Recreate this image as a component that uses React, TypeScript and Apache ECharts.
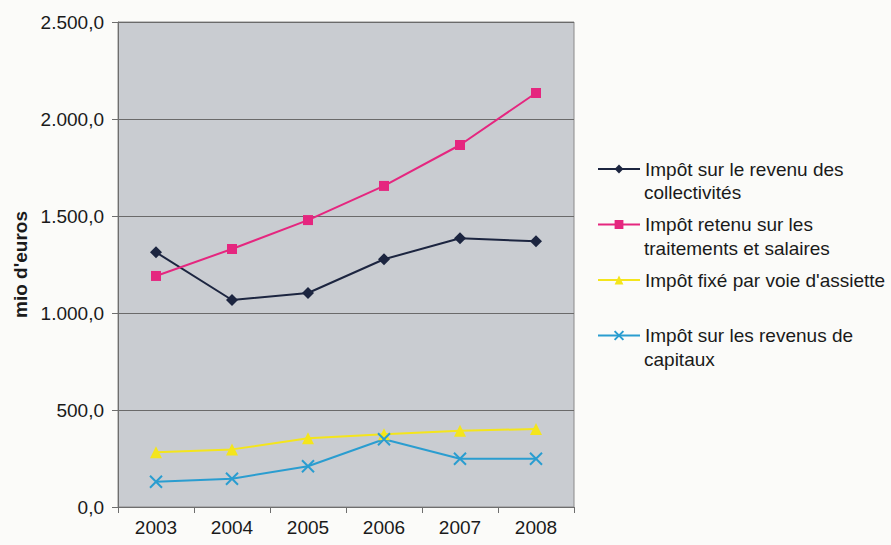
import React, { useEffect, useRef } from "react";
import * as echarts from "echarts";

const years = ["2003", "2004", "2005", "2006", "2007", "2008"];
const collectivites = [1313, 1067, 1103, 1277, 1385, 1370];
const traitements = [1191, 1330, 1479, 1655, 1866, 2134];
const assiette = [282, 297, 354, 375, 393, 402];
const capitaux = [130, 146, 210, 349, 249, 249];
const seriesNames = [
  "Impôt sur le revenu des collectivités",
  "Impôt retenu sur les traitements et salaires",
  "Impôt fixé par voie d'assiette",
  "Impôt sur les revenus de capitaux",
];
const legendFirstLines = [
  "Impôt sur le revenu des",
  "Impôt retenu sur les",
  "Impôt fixé par voie d'assiette",
  "Impôt sur les revenus de",
];
const legendSecondLines = ["collectivités", "traitements et salaires", "", "capitaux"];

const colors = ["#1c2540", "#e5267f", "#f4e51c", "#2a9dd0"];
const symbols = ["diamond", "rect", "triangle", "path://M0 0L10 10M10 0L0 10"];
const symbolSizes = [12, 10, 12, 12];

const FONT = "Liberation Sans, Arial, sans-serif";

function fmt(v: number) {
  const s = Math.round(v).toString();
  const withDots = s.replace(/\B(?=(\d{3})+(?!\d))/g, ".");
  return withDots + ",0";
}

export default function App() {
  const ref = useRef<HTMLDivElement>(null);
  useEffect(() => {
    document.body.style.margin = "0";
    document.body.style.background = "#fbfbf9";
    const chart = echarts.init(ref.current!, undefined, { renderer: "svg" });
    const data = [collectivites, traitements, assiette, capitaux];
    const firstLineY = 169;
    const pitch = 55.5;
    const lineStep = 23.5;
    chart.setOption({
      animation: false,
      backgroundColor: "#fbfbf9",
      textStyle: { fontFamily: FONT },
      grid: {
        left: 118,
        right: 317,
        top: 22,
        bottom: 38,
        show: true,
        backgroundColor: "#c9ccd1",
        borderColor: "#8a8a8a",
        borderWidth: 1,
      },
      legend: {
        data: seriesNames,
        left: 597,
        top: firstLineY - 11,
        padding: 0,
        orient: "vertical",
        itemWidth: 42,
        itemHeight: 11,
        itemGap: pitch - 22,
        formatter: (name: string) => legendFirstLines[seriesNames.indexOf(name)],
        textStyle: { fontSize: 19, color: "#1a1a1a", lineHeight: 22, fontFamily: FONT },
        selectedMode: false,
      },
      graphic: legendSecondLines
        .map((t, i) =>
          t
            ? {
                type: "text",
                x: 644,
                y: firstLineY + i * pitch + lineStep,
                style: {
                  text: t,
                  font: `19px ${FONT}`,
                  fill: "#1a1a1a",
                  textVerticalAlign: "middle",
                  verticalAlign: "middle",
                },
              }
            : null
        )
        .filter(Boolean),
      xAxis: {
        type: "category",
        data: years,
        boundaryGap: true,
        axisLine: { lineStyle: { color: "#6e6e6e" } },
        axisTick: { show: true, length: 6, lineStyle: { color: "#6e6e6e" } },
        axisLabel: { fontSize: 19, color: "#1a1a1a", margin: 11 },
      },
      yAxis: {
        type: "value",
        min: 0,
        max: 2500,
        interval: 500,
        name: "mio d'euros",
        nameLocation: "middle",
        nameGap: 88,
        nameTextStyle: { fontSize: 19, fontWeight: "bold", color: "#1a1a1a" },
        axisLine: { show: true, lineStyle: { color: "#6e6e6e" } },
        axisTick: { show: true, length: 6, lineStyle: { color: "#6e6e6e" } },
        axisLabel: { fontSize: 19, color: "#1a1a1a", margin: 14, formatter: (v: number) => fmt(v) },
        splitLine: { lineStyle: { color: "#6a6a6a", width: 1 } },
      },
      series: seriesNames.map((n, i) => ({
        name: n,
        type: "line",
        data: data[i],
        symbol: symbols[i],
        symbolSize: symbolSizes[i],
        showAllSymbol: true,
        lineStyle: { color: colors[i], width: 2 },
        itemStyle: {
          color: colors[i],
          borderColor: colors[i],
          borderWidth: i === 3 ? 2 : 0,
        },
      })),
    });
    return () => chart.dispose();
  }, []);
  return <div ref={ref} style={{ width: 891, height: 545 }} />;
}
